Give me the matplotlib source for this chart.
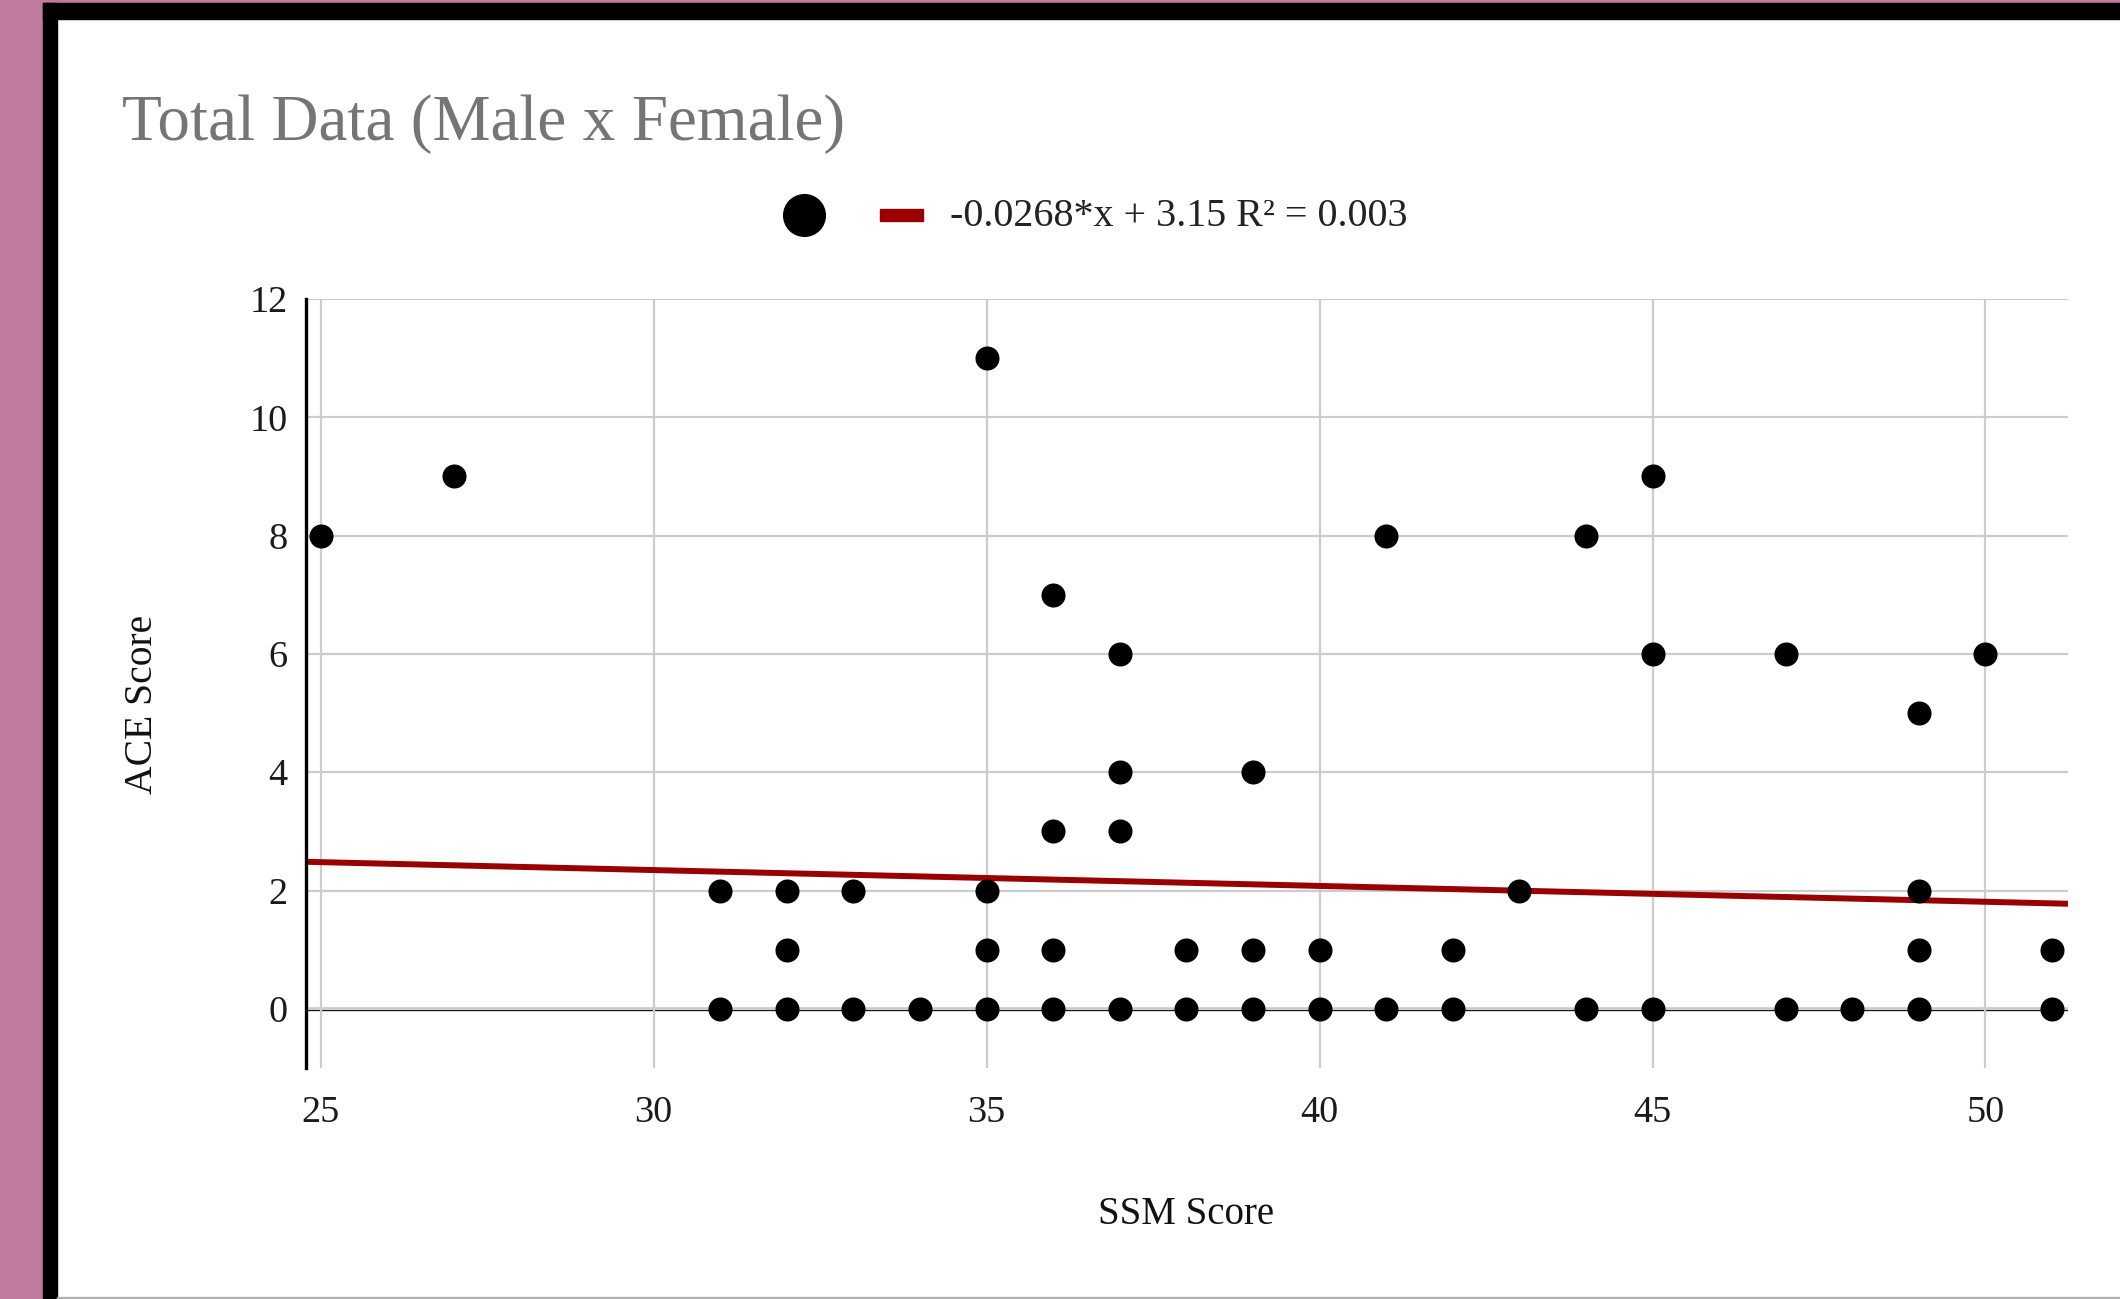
import matplotlib
matplotlib.use("Agg")
import matplotlib.pyplot as plt
from matplotlib.patches import Rectangle
from matplotlib.lines import Line2D

# ---- data ----
ssm_score = [25, 27,
             31, 31,
             32, 32, 32,
             33, 33,
             34,
             35, 35, 35, 35,
             36, 36, 36, 36,
             37, 37, 37, 37,
             38, 38,
             39, 39, 39,
             40, 40,
             41, 41,
             42, 42,
             43,
             44, 44,
             45, 45, 45,
             47, 47,
             48,
             49, 49, 49, 49,
             50,
             51, 51]
ace_score = [8, 9,
             2, 0,
             2, 1, 0,
             2, 0,
             0,
             11, 2, 1, 0,
             7, 3, 1, 0,
             6, 4, 3, 0,
             1, 0,
             4, 1, 0,
             1, 0,
             8, 0,
             1, 0,
             2,
             8, 0,
             9, 6, 0,
             6, 0,
             0,
             5, 2, 1, 0,
             6,
             1, 0]
trend_slope = -0.0268
trend_intercept = 3.15
legend_label = "-0.0268*x + 3.15 R\u00b2 = 0.003"
x_ticks = [25, 30, 35, 40, 45, 50]
y_ticks = [0, 2, 4, 6, 8, 10, 12]
title = "Total Data (Male x Female)"

W, H = 2120, 1299
fig = plt.figure(figsize=(W / 100, H / 100), dpi=100)
fig.patch.set_facecolor("white")
serif = ["Liberation Serif", "DejaVu Serif"]

# frame decorations (pink page + black border)
pink = "#c27ba0"
fig.patches.append(Rectangle((0, 0), 43 / W, 1, transform=fig.transFigure, color=pink, zorder=0))
fig.patches.append(Rectangle((0, 1 - 3 / H), 1, 3 / H, transform=fig.transFigure, color=pink, zorder=0))
fig.patches.append(Rectangle((43 / W, 0), 14 / W, 1 - 3 / H, transform=fig.transFigure, color="black", zorder=0))
fig.patches.append(Rectangle((43 / W, 1 - 19 / H), 1, 16 / H, transform=fig.transFigure, color="black", zorder=0))
fig.patches.append(Rectangle((57 / W, 0), 1, 2 / H, transform=fig.transFigure, color="#b0b0b0", zorder=0))

left, right, top, bottom = 305.5, 2068, 299, 1068
ax = fig.add_axes([left / W, 1 - bottom / H, (right - left) / W, (bottom - top) / H])
ax.set_facecolor("white")
ax.set_xlim(24.77, 51.24)
ax.set_ylim(-1, 12)
ax.set_xticks(x_ticks)
ax.set_yticks(y_ticks)
ax.grid(True, color="#cccccc", linewidth=1.6, zorder=0)
ax.tick_params(length=0, labelsize=27.5, labelcolor="#1a1a1a")
ax.tick_params(axis="x", pad=20)
ax.tick_params(axis="y", pad=13)
for lab in ax.get_xticklabels() + ax.get_yticklabels():
    lab.set_fontfamily(serif)
for s in ["top", "right", "bottom"]:
    ax.spines[s].set_visible(False)
ax.spines["left"].set_color("black")
ax.spines["left"].set_linewidth(2.4)
ax.axhline(0, color="black", linewidth=2.4, zorder=1)

ax.scatter(ssm_score, ace_score, s=300, color="black", zorder=3, linewidths=0)
xs = [ax.get_xlim()[0], ax.get_xlim()[1]]
ax.plot(xs, [trend_slope * x + trend_intercept for x in xs], color="#990000", linewidth=4.3, zorder=2,
        solid_capstyle="butt")

# title and labels
fig.text(122 / W, 1 - 124 / H, title, fontsize=47, color="#757575", family=serif, va="center", ha="left")
fig.text(1186 / W, 1 - 1215 / H, "SSM Score", fontsize=28, color="#111111", family=serif, ha="center", va="center")
fig.text(142 / W, 1 - 704 / H, "ACE Score", fontsize=28.5, color="#111111", family=serif, ha="center", va="center",
         rotation=90)

# legend
fig.lines.append(Line2D([804 / W], [1 - 215 / H], transform=fig.transFigure, marker="o", markersize=30,
                        color="black", linestyle="none"))
fig.patches.append(Rectangle((880 / W, 1 - 220.5 / H), 43 / W, 11 / H, transform=fig.transFigure, color="#990000"))
fig.text(950 / W, 1 - 217 / H, legend_label, fontsize=28.8, color="#222222", family=serif, ha="left", va="center")

fig.savefig("out.png", dpi=100, facecolor=fig.get_facecolor())
